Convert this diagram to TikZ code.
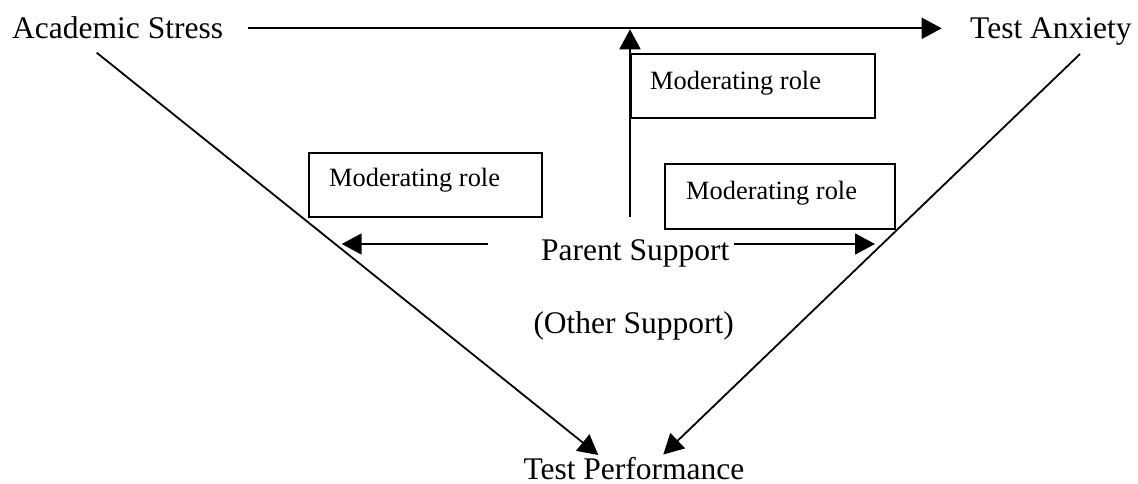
\documentclass[tikz,border=0pt]{standalone}
\usepackage{fontspec}
\setmainfont{Liberation Serif}
\usetikzlibrary{arrows.meta}
\tikzset{
  big/.style={inner sep=0pt, anchor=base west, font=\fontsize{31.5}{36}\selectfont},
  small/.style={inner sep=0pt, anchor=base west, font=\fontsize{26.4}{30}\selectfont},
  modbox/.style={draw, line width=1.8pt, inner sep=0pt, outer sep=0pt, rectangle},
  conn/.style={line width=1.8pt, -{Triangle[length=20pt,width=21pt]}},
}
\begin{document}
\begin{tikzpicture}[x=1pt,y=-1pt]
\useasboundingbox (0,0) rectangle (1138,483);
% text nodes
\node[big] (as) at (12,38.5) {Academic Stress};
\node[big] (ta) at (970,38.3) {Test Anxiety};
\node[big] (ps) at (541,260) {Parent Support};
\node[big] (os) at (533.3,333.3) {(Other Support)};
\node[big] (tp) at (523.3,479.5) {Test Performance};
% boxes
\node[modbox, minimum width=244.3pt, minimum height=64.3pt] (m1) at (752.85,86.15) {};
\node[modbox, minimum width=232.7pt, minimum height=64pt] (m2) at (425.35,184.7) {};
\node[modbox, minimum width=230pt, minimum height=64.7pt] (m3) at (780,196.65) {};
\node[small] (m1t) at (650,89.3) {Moderating role};
\node[small] (m2t) at (329,186.7) {Moderating role};
\node[small] (m3t) at (686,199.3) {Moderating role};
% connector ends
\coordinate (asS) at (248.3,28.3);
\coordinate (taW) at (941.7,28.3);
\coordinate (vB) at (630,216.7);
\coordinate (vT) at (630,29.3);
\coordinate (psL) at (488.3,244);
\coordinate (lTip) at (341.7,244);
\coordinate (psR) at (734,244);
\coordinate (rTip) at (875,244);
\coordinate (asD) at (96.7,52.7);
\coordinate (tpL) at (598.3,455);
\coordinate (taD) at (1080,54);
\coordinate (tpR) at (663.3,454.5);
% connectors
\draw[conn] (asS) -- (taW);
\draw[conn] (vB) -- (vT);
\draw[conn] (psL) -- (lTip);
\draw[conn] (psR) -- (rTip);
\draw[conn] (asD) -- (tpL);
\draw[conn] (taD) -- (tpR);
\end{tikzpicture}
\end{document}
